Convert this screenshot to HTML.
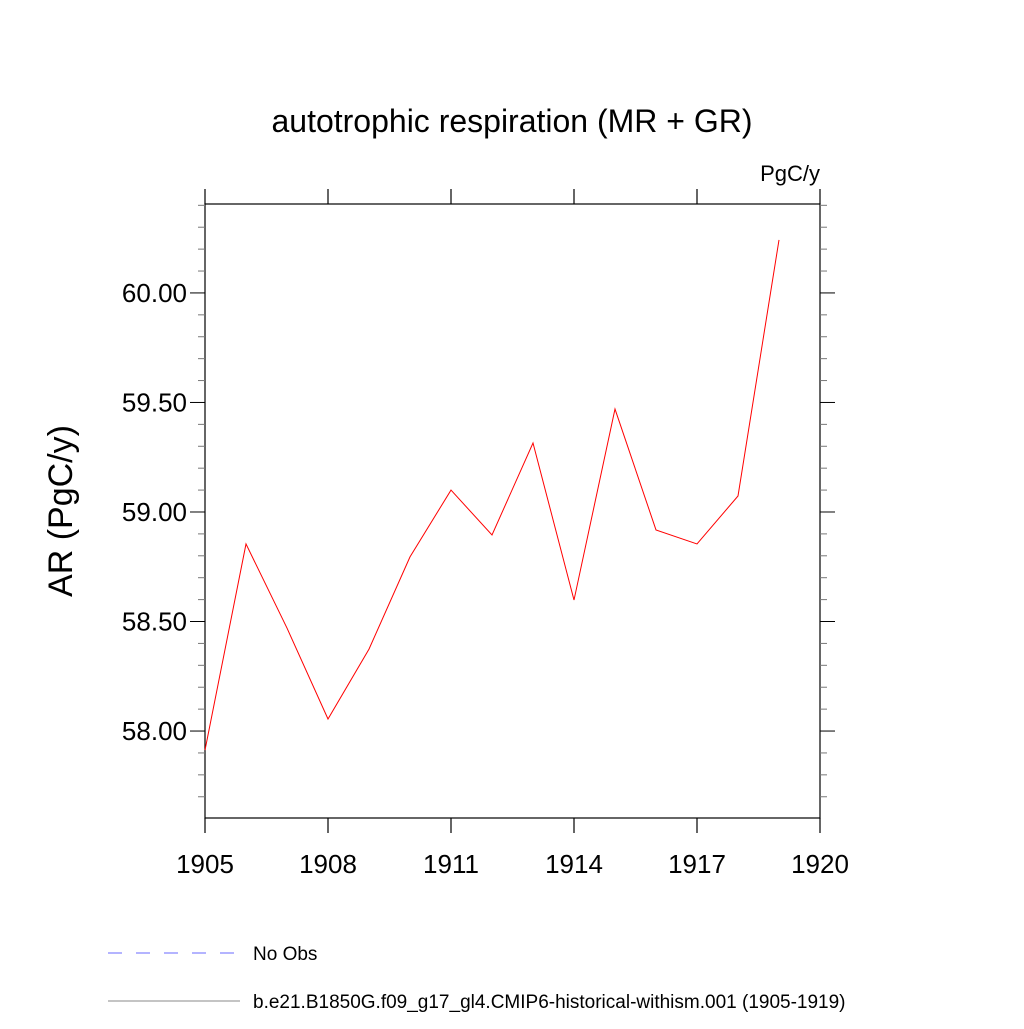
<!DOCTYPE html>
<html><head><meta charset="utf-8"><style>
body{margin:0;background:#fff;font-family:"Liberation Sans",sans-serif}
</style></head><body>
<svg width="1024" height="1024" viewBox="0 0 1024 1024" xmlns="http://www.w3.org/2000/svg">
<text x="512" y="132" text-anchor="middle" font-size="32" font-family="Liberation Sans, sans-serif">autotrophic respiration (MR + GR)</text>
<text x="820" y="181" text-anchor="end" font-size="22" font-family="Liberation Sans, sans-serif">PgC/y</text>
<text transform="translate(72,511) rotate(-90)" text-anchor="middle" font-size="34" font-family="Liberation Sans, sans-serif">AR  (PgC/y)</text>
<g id="axes"></g>
<g id="series"></g>
<g>
<line x1="108" y1="953" x2="240" y2="953" stroke="#6a6aff" stroke-width="1" stroke-dasharray="14,14"/>
<text x="253" y="960" font-size="19" font-family="Liberation Sans, sans-serif">No Obs</text>
<line x1="108" y1="1001" x2="240" y2="1001" stroke="#888" stroke-width="1"/>
<text x="253" y="1008" font-size="19" font-family="Liberation Sans, sans-serif">b.e21.B1850G.f09_g17_gl4.CMIP6-historical-withism.001 (1905-1919)</text>
</g>
</svg>
<script>
const years=[1905,1906,1907,1908,1909,1910,1911,1912,1913,1914,1915,1916,1917,1918,1919];
const arValues=[57.913,58.854,58.470,58.055,58.374,58.795,59.100,58.895,59.315,58.598,59.470,58.918,58.854,59.073,60.242];
const xTicks=[1905,1908,1911,1914,1917,1920];
const yTicks=[58.0,58.5,59.0,59.5,60.0];
const yTickLabels=["58.00","58.50","59.00","59.50","60.00"];
const NS="http://www.w3.org/2000/svg";
const L=205,R=820,T=204,B=818;
const xMin=1905,xMax=1920,yMin=57.603,yMax=60.406;
const xs=v=>L+(v-xMin)/(xMax-xMin)*(R-L);
const ys=v=>B-(v-yMin)/(yMax-yMin)*(B-T);
function mk(tag,attrs,parent){const e=document.createElementNS(NS,tag);for(const k in attrs)e.setAttribute(k,attrs[k]);parent.appendChild(e);return e;}
const ax=document.getElementById('axes');
const frame=mk('rect',{x:L,y:T,width:R-L,height:B-T,fill:'none',stroke:'#000','stroke-width':1.2},ax);


xTicks.forEach(t=>{const x=xs(t);
const a=mk('line',{x1:x,y1:B,x2:x,y2:B+15,stroke:'#000','stroke-width':1.2},ax);


const b=mk('line',{x1:x,y1:T,x2:x,y2:T-15,stroke:'#000','stroke-width':1.2},ax);


const tx=mk('text',{x:x,y:B+55,'text-anchor':'middle','font-size':26,'font-family':'Liberation Sans, sans-serif'},ax);tx.textContent=t;


});
for(let i=577;i<=604;i++){const v=i/10;if(v<yMin||v>yMax)continue;const y=ys(v);const major=(i%5===0);const len=major?15:7;
const a=mk('line',{x1:L,y1:y,x2:L-len,y2:y,stroke:major?'#000':'#777','stroke-width':1},ax);


const b=mk('line',{x1:R,y1:y,x2:R+len,y2:y,stroke:major?'#000':'#777','stroke-width':1},ax);


}
yTicks.forEach((t,i)=>{const tx=mk('text',{x:L-18,y:ys(t)+9,'text-anchor':'end','font-size':26,'font-family':'Liberation Sans, sans-serif'},ax);tx.textContent=yTickLabels[i];


});
const sg=document.getElementById('series');
const pl=mk('polyline',{points:years.map((y,i)=>xs(y)+','+ys(arValues[i])).join(' '),fill:'none',stroke:'#ff0000','stroke-width':1},sg);


</script>
</body></html>
